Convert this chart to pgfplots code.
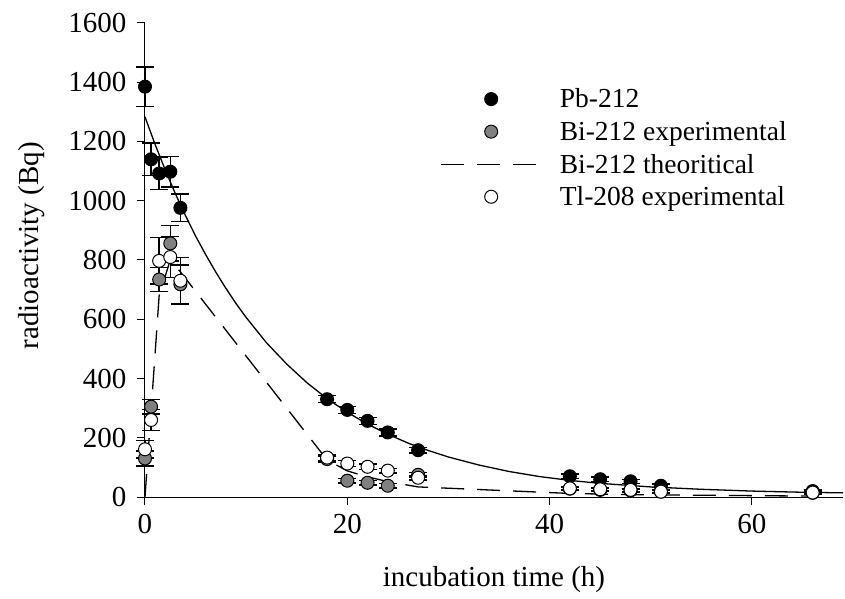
\documentclass[border=0pt]{standalone}
\usepackage{fontspec}
\setmainfont{Liberation Serif}
\usepackage{pgfplots}
\usepackage{pgfplotstable}
\pgfplotsset{compat=1.18}
\definecolor{bigray}{RGB}{128,128,128}

\pgfplotstableread{
t v e
0 1385 67
0.6 1140 55
1.4 1092 55
2.5 1098 52
3.5 976 47
18 330 12
20 294 12
22 257 12
24 218 12
27 158 10
42 70 8
45 60 8
48 53 7
51 38 6
66 20 4
}\pbdata

\pgfplotstableread{
t v e
0 130 25
0.6 305 25
1.4 734 40
2.5 856 60
3.5 718 65
18 128 10
20 55 8
22 48 8
24 38 8
27 75 8
42 28 5
45 24 5
48 22 5
51 18 5
66 14 4
}\bidata

\pgfplotstableread{
t v e
0 161 30
0.6 260 35
1.4 797 78
2.5 810 70
3.5 730 78
18 133 10
20 113 10
22 102 10
24 89 8
27 65 8
42 29 5
45 26 5
48 24 5
51 18 4
66 15 4
}\tldata

\pgfplotstableread{
t v
0 1283
1 1190
2 1104
3 1024
4 950
5 881
6 818
7 759
8 704
9 653
10 606
12 521
14 449
16 386
18 332
20 286
22 246
24 212
26 182
28 157
30 135
33 108
36 86
39 69
42 56
45 46
50 34
55 26
60 20
65 16
69 14
}\pbfit

\pgfplotstableread{
t v
0 0
0.6 290
1.4 680
2.5 800
3.5 760
18 125
20 88
22 68
24 52
27 34
42 12
45 10
48 8
51 7
66 3
}\bitheo

\begin{document}
\begin{tikzpicture}
\begin{axis}[
  scale only axis, width=698bp, height=474bp,
  xmin=0, xmax=69, ymin=0, ymax=1600,
  axis x line*=bottom, axis y line*=left,
  axis line style={line width=1bp, black},
  xtick={0,20,40,60}, ytick={0,200,400,600,800,1000,1200,1400,1600},
  tick align=outside, major tick length=8bp,
  tick style={line width=1bp, black},
  /pgf/number format/assume math mode=true,
  /pgf/number format/1000 sep={},
  tick label style={font=\fontsize{29bp}{32bp}\selectfont},
  xticklabel style={yshift=-6bp},
  yticklabel style={xshift=-7bp},
  label style={font=\fontsize{29bp}{33bp}\selectfont},
  xlabel={incubation time (h)},
  ylabel={radioactivity (Bq)},
  x label style={at={(axis description cs:0.5,-0.175)}, anchor=center},
  y label style={at={(axis description cs:-0.162,0.53)}, anchor=center, rotate=0},
  clip=false,
  legend style={draw=none, fill=none, at={(axis cs:28.9,1392)}, anchor=north west,
    font=\fontsize{27.5bp}{31bp}\selectfont, row sep=8bp, cells={anchor=west}},
  legend image code/.code={\draw[mark repeat=2,mark phase=2,#1] plot coordinates {(0bp,0bp) (50bp,0bp) (100bp,0bp)}; \path (116bp,0bp);},
  every axis plot/.append style={line width=1.3bp},
  error bars/error bar style={line width=1.4bp, black, solid},
  error bars/error mark options={rotate=90, mark size=9bp, line width=1.4bp, black},
]
\coordinate (ll) at (rel axis cs:0,0);
\coordinate (ur) at (rel axis cs:1,1);
\addplot[black, line width=1.3bp, forget plot] table[x=t,y=v] {\pbfit};
\addplot[only marks, mark=*, mark size=6.5bp, mark options={draw=black, fill=black, line width=1bp},
  error bars/.cd, y dir=both, y explicit]
  table[x=t,y=v,y error=e] {\pbdata};
\addlegendentry{Pb-212}
\addplot[only marks, mark=*, mark size=6.5bp, mark options={draw=black, fill=bigray, line width=1bp},
  error bars/.cd, y dir=both, y explicit]
  table[x=t,y=v,y error=e] {\bidata};
\addlegendentry{Bi-212 experimental}
\addplot[black, line width=1.3bp, dash pattern=on 23bp off 13bp] table[x=t,y=v] {\bitheo};
\addlegendentry{Bi-212 theoritical}
\addplot[only marks, mark=*, mark size=6.5bp, mark options={draw=black, fill=white, line width=1bp},
  error bars/.cd, y dir=both, y explicit]
  table[x=t,y=v,y error=e] {\tldata};
\addlegendentry{Tl-208 experimental}
\end{axis}
\path ([shift={(-145bp,-102bp)}]ll) rectangle ([shift={(2bp,23bp)}]ur);
\end{tikzpicture}
\end{document}
